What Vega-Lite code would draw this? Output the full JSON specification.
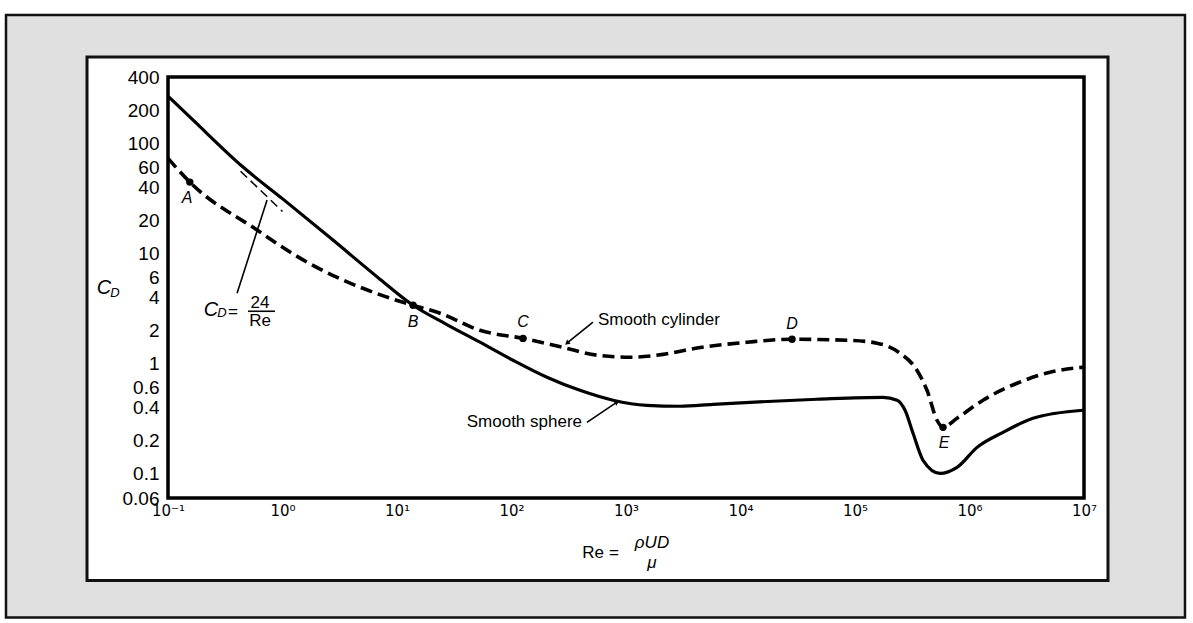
{
  "$schema": "https://vega.github.io/schema/vega-lite/v6.json",
  "autosize": {"type": "none"},
  "padding": {"left": 168, "top": 77, "right": 109, "bottom": 125},
  "width": 916,
  "height": 421,
  "background": "#ffffff",
  "config": {
    "view": {"stroke": null},
    "font": "Liberation Sans"
  },
  "datasets": {
    "outer": [{"Re": 0.003847, "Re2": 76200000, "CD": 1464, "CD2": 0.00493}],
    "inner": [{"Re": 0.01962, "Re2": 16200000, "CD": 608, "CD2": 0.01069}],
    "plotframe": [{"Re": 0.1, "Re2": 10000000, "CD": 400, "CD2": 0.06}],
    "curves": [
      {"body": "sphere", "Re": 0.1, "CD": 268},
      {"body": "sphere", "Re": 0.165, "CD": 163},
      {"body": "sphere", "Re": 0.452, "CD": 60.8},
      {"body": "sphere", "Re": 1.01, "CD": 31.1},
      {"body": "sphere", "Re": 2.76, "CD": 13.2},
      {"body": "sphere", "Re": 7.1, "CD": 5.83},
      {"body": "sphere", "Re": 13.8, "CD": 3.38},
      {"body": "sphere", "Re": 27, "CD": 2.27},
      {"body": "sphere", "Re": 53, "CD": 1.56},
      {"body": "sphere", "Re": 103, "CD": 1.07},
      {"body": "sphere", "Re": 204, "CD": 0.75},
      {"body": "sphere", "Re": 396, "CD": 0.57},
      {"body": "sphere", "Re": 770, "CD": 0.464},
      {"body": "sphere", "Re": 1520, "CD": 0.417},
      {"body": "sphere", "Re": 2960, "CD": 0.409},
      {"body": "sphere", "Re": 5750, "CD": 0.426},
      {"body": "sphere", "Re": 12100, "CD": 0.444},
      {"body": "sphere", "Re": 46600, "CD": 0.473},
      {"body": "sphere", "Re": 175700, "CD": 0.493},
      {"body": "sphere", "Re": 232900, "CD": 0.464},
      {"body": "sphere", "Re": 273600, "CD": 0.376},
      {"body": "sphere", "Re": 321400, "CD": 0.232},
      {"body": "sphere", "Re": 392800, "CD": 0.132},
      {"body": "sphere", "Re": 552300, "CD": 0.1005},
      {"body": "sphere", "Re": 778000, "CD": 0.114},
      {"body": "sphere", "Re": 1164000, "CD": 0.173},
      {"body": "sphere", "Re": 1963000, "CD": 0.237},
      {"body": "sphere", "Re": 3589000, "CD": 0.318},
      {"body": "sphere", "Re": 9800000, "CD": 0.376},
      {"body": "cylinder", "Re": 0.1, "CD": 73},
      {"body": "cylinder", "Re": 0.155, "CD": 44.4},
      {"body": "cylinder", "Re": 0.6, "CD": 16.3},
      {"body": "cylinder", "Re": 1.285, "CD": 9.64},
      {"body": "cylinder", "Re": 8.69, "CD": 3.92},
      {"body": "cylinder", "Re": 13.8, "CD": 3.38},
      {"body": "cylinder", "Re": 23.8, "CD": 2.86},
      {"body": "cylinder", "Re": 53, "CD": 2.0},
      {"body": "cylinder", "Re": 126, "CD": 1.69},
      {"body": "cylinder", "Re": 282, "CD": 1.4},
      {"body": "cylinder", "Re": 558, "CD": 1.19},
      {"body": "cylinder", "Re": 1084, "CD": 1.14},
      {"body": "cylinder", "Re": 2104, "CD": 1.21},
      {"body": "cylinder", "Re": 4169, "CD": 1.38},
      {"body": "cylinder", "Re": 11400, "CD": 1.56},
      {"body": "cylinder", "Re": 28200, "CD": 1.66},
      {"body": "cylinder", "Re": 90300, "CD": 1.62},
      {"body": "cylinder", "Re": 155600, "CD": 1.53},
      {"body": "cylinder", "Re": 247000, "CD": 1.24},
      {"body": "cylinder", "Re": 347600, "CD": 0.868},
      {"body": "cylinder", "Re": 425400, "CD": 0.571},
      {"body": "cylinder", "Re": 520300, "CD": 0.305},
      {"body": "cylinder", "Re": 587000, "CD": 0.263},
      {"body": "cylinder", "Re": 778000, "CD": 0.318},
      {"body": "cylinder", "Re": 1312000, "CD": 0.464},
      {"body": "cylinder", "Re": 2600000, "CD": 0.661},
      {"body": "cylinder", "Re": 5050000, "CD": 0.832},
      {"body": "cylinder", "Re": 9800000, "CD": 0.924}
    ],
    "stokes": [{"Re": 0.43, "CD": 55.8}, {"Re": 1.0, "CD": 24}],
    "leaders": [
      {"id": "c24", "Re": 0.401, "CD": 4.35},
      {"id": "c24", "Re": 0.733, "CD": 30.5},
      {"id": "cyl", "Re": 515, "CD": 2.37},
      {"id": "cyl", "Re": 305, "CD": 1.53},
      {"id": "sph", "Re": 456, "CD": 0.292},
      {"id": "sph", "Re": 834, "CD": 0.445}
    ],
    "arrow_cyl": [{"Re": 305, "CD": 1.53}],
    "arrow_sph": [{"Re": 834, "CD": 0.445}],
    "points": [
      {"label": "A", "Re": 0.155, "CD": 44.4},
      {"label": "B", "Re": 13.8, "CD": 3.38},
      {"label": "C", "Re": 126, "CD": 1.69},
      {"label": "D", "Re": 28200, "CD": 1.66},
      {"label": "E", "Re": 587000, "CD": 0.263}
    ],
    "letters": [
      {"label": "A", "Re": 0.147, "CD": 32},
      {"label": "B", "Re": 13.8, "CD": 2.37},
      {"label": "C", "Re": 126, "CD": 2.37},
      {"label": "D", "Re": 28200, "CD": 2.28},
      {"label": "E", "Re": 600000, "CD": 0.188}
    ],
    "bigC": [
      {"label": "C", "Re": 0.2374, "CD": 3.05},
      {"label": "C", "Re": 0.0276, "CD": 4.83}
    ],
    "subD": [
      {"label": "D", "Re": 0.2962, "CD": 2.86},
      {"label": "D", "Re": 0.0344, "CD": 4.35}
    ],
    "plain": [
      {"label": "=", "Re": 0.37, "CD": 2.92},
      {"label": "24", "Re": 0.636, "CD": 3.53},
      {"label": "Re", "Re": 0.636, "CD": 2.42},
      {"label": "Re", "Re": 515, "CD": 0.01884},
      {"label": "=", "Re": 785, "CD": 0.01884}
    ],
    "italic": [
      {"label": "ρUD", "Re": 1687, "CD": 0.02323},
      {"label": "μ", "Re": 1687, "CD": 0.01528}
    ],
    "bars": [{"Re": 0.5, "Re2": 0.86, "CD": 2.98}],
    "leftText": [{"label": "Smooth cylinder", "Re": 569, "CD": 2.47}],
    "rightText": [{"label": "Smooth sphere", "Re": 413, "CD": 0.292}]
  },
  "encoding": {
    "x": {
      "field": "Re", "type": "quantitative",
      "scale": {"type": "log", "domain": [0.1, 10000000], "nice": false},
      "axis": {
        "title": null,
        "zindex": 5,
        "grid": false, "ticks": false, "domain": false,
        "values": [0.1, 1, 10, 100, 1000, 10000, 100000, 1000000, 10000000],
        "labelExpr": "'10' + ['⁻¹','⁰','¹','²','³','⁴','⁵','⁶','⁷'][round(log(datum.value)/LN10)+1]",
        "labelColor": "#000000", "labelFont": "DejaVu Sans", "labelFontSize": 15,
        "labelOverlap": false, "labelFlush": false, "labelBound": false,
        "labelPadding": 5
      }
    },
    "y": {
      "field": "CD", "type": "quantitative",
      "scale": {"type": "log", "domain": [0.06, 400], "nice": false},
      "axis": {
        "title": null,
        "zindex": 5,
        "grid": false, "ticks": false, "domain": false,
        "values": [0.06, 0.1, 0.2, 0.4, 0.6, 1, 2, 4, 6, 10, 20, 40, 60, 100, 200, 400],
        "format": "~g",
        "labelColor": "#000000", "labelFont": "Liberation Sans", "labelFontSize": 19,
        "labelOverlap": false, "labelBound": false,
        "labelPadding": 9
      }
    }
  },
  "layer": [
    {
      "data": {"name": "outer"},
      "mark": {"type": "rect", "fill": "#e0e0e0", "stroke": "#111111", "strokeWidth": 2.5},
      "encoding": {"x2": {"field": "Re2"}, "y2": {"field": "CD2"}}
    },
    {
      "data": {"name": "inner"},
      "mark": {"type": "rect", "fill": "#ffffff", "stroke": "#111111", "strokeWidth": 3},
      "encoding": {"x2": {"field": "Re2"}, "y2": {"field": "CD2"}}
    },
    {
      "data": {"name": "plotframe"},
      "mark": {"type": "rect", "fill": "#ffffff", "stroke": "#000000", "strokeWidth": 3.5},
      "encoding": {"x2": {"field": "Re2"}, "y2": {"field": "CD2"}}
    },
    {
      "data": {"name": "curves"},
      "transform": [{"filter": "datum.body === 'sphere'"}],
      "mark": {"type": "line", "interpolate": "monotone", "color": "#000000", "strokeWidth": 3.2},
      "encoding": {}
    },
    {
      "data": {"name": "curves"},
      "transform": [{"filter": "datum.body === 'cylinder'"}],
      "mark": {"type": "line", "interpolate": "monotone", "color": "#000000", "strokeWidth": 3.6, "strokeDash": [12, 6]},
      "encoding": {}
    },
    {
      "data": {"name": "stokes"},
      "mark": {"type": "line", "color": "#000000", "strokeWidth": 1.5, "strokeDash": [9, 5]},
      "encoding": {}
    },
    {
      "data": {"name": "leaders"},
      "mark": {"type": "line", "color": "#000000", "strokeWidth": 1.6},
      "encoding": {"detail": {"field": "id"}, "order": {"field": "CD"}}
    },
    {
      "data": {"name": "arrow_cyl"},
      "mark": {"type": "point", "shape": "triangle-up", "filled": true, "color": "#000000", "size": 30, "angle": 231, "opacity": 1}
    },
    {
      "data": {"name": "arrow_sph"},
      "mark": {"type": "point", "shape": "triangle-up", "filled": true, "color": "#000000", "size": 30, "angle": 56, "opacity": 1}
    },
    {
      "data": {"name": "points"},
      "mark": {"type": "point", "shape": "circle", "filled": true, "color": "#000000", "size": 55, "opacity": 1}
    },
    {
      "data": {"name": "bars"},
      "mark": {"type": "rule", "color": "#000000", "strokeWidth": 1.6},
      "encoding": {"x2": {"field": "Re2"}}
    },
    {
      "data": {"name": "letters"},
      "mark": {"type": "text", "font": "Liberation Sans", "fontStyle": "italic", "fontSize": 16, "color": "#000000", "align": "center", "baseline": "middle"},
      "encoding": {"text": {"field": "label"}}
    },
    {
      "data": {"name": "bigC"},
      "mark": {"type": "text", "font": "Liberation Sans", "fontStyle": "italic", "fontSize": 20, "color": "#000000", "align": "center", "baseline": "middle"},
      "encoding": {"text": {"field": "label"}}
    },
    {
      "data": {"name": "subD"},
      "mark": {"type": "text", "font": "Liberation Sans", "fontStyle": "italic", "fontSize": 13, "color": "#000000", "align": "center", "baseline": "middle"},
      "encoding": {"text": {"field": "label"}}
    },
    {
      "data": {"name": "plain"},
      "mark": {"type": "text", "font": "Liberation Sans", "fontSize": 17, "color": "#000000", "align": "center", "baseline": "middle"},
      "encoding": {"text": {"field": "label"}}
    },
    {
      "data": {"name": "italic"},
      "mark": {"type": "text", "font": "Liberation Sans", "fontStyle": "italic", "fontSize": 17, "color": "#000000", "align": "center", "baseline": "middle"},
      "encoding": {"text": {"field": "label"}}
    },
    {
      "data": {"name": "leftText"},
      "mark": {"type": "text", "font": "Liberation Sans", "fontSize": 17, "color": "#000000", "align": "left", "baseline": "middle"},
      "encoding": {"text": {"field": "label"}}
    },
    {
      "data": {"name": "rightText"},
      "mark": {"type": "text", "font": "Liberation Sans", "fontSize": 17, "color": "#000000", "align": "right", "baseline": "middle"},
      "encoding": {"text": {"field": "label"}}
    }
  ]
}
